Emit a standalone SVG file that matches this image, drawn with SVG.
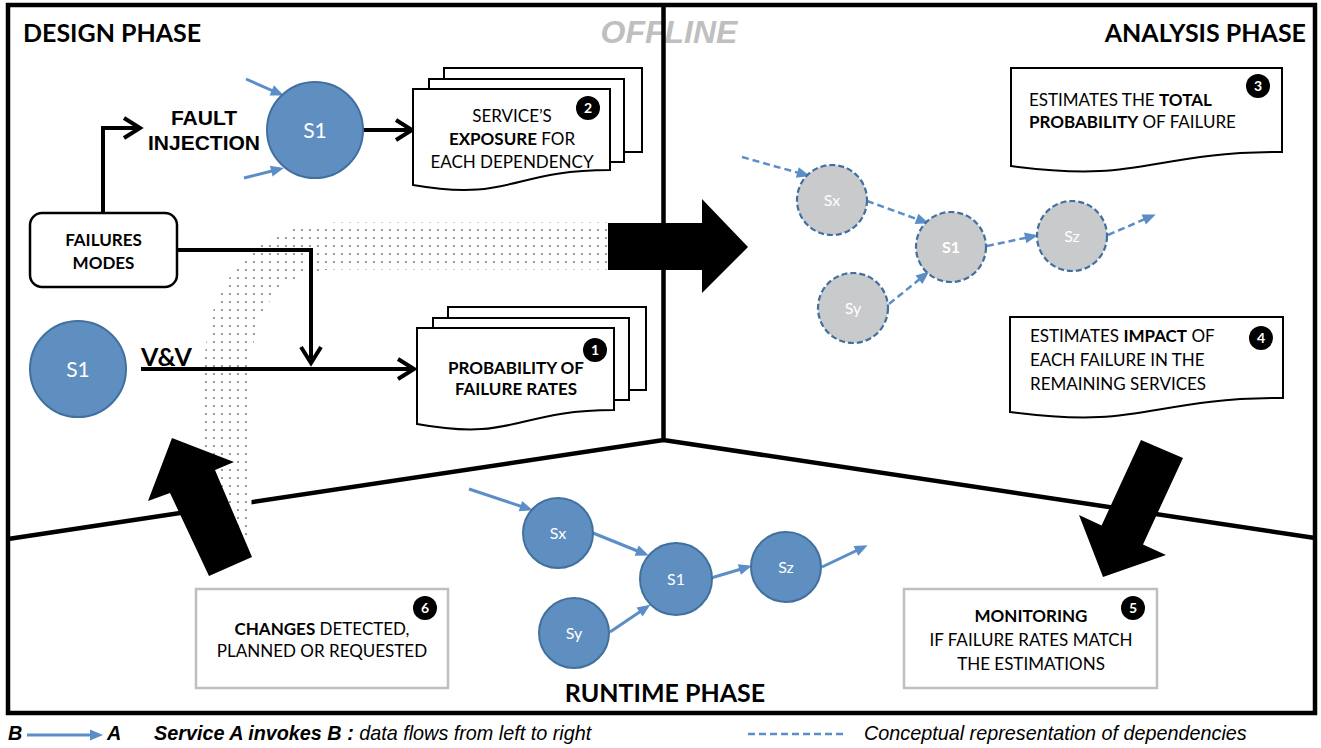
<svg xmlns="http://www.w3.org/2000/svg" width="1321" height="748" viewBox="0 0 1321 748">
<defs>
<style>
.frame{fill:none;stroke:#000;stroke-width:4.5}
.div{fill:none;stroke:#000;stroke-width:4.5}
.conn{fill:none;stroke:#000;stroke-width:4;marker-end:url(#chev)}
.doc{fill:#fff;stroke:#000;stroke-width:2}
.box{fill:#fff;stroke:#bfbfbf;stroke-width:2.5}
.fm{fill:#fff;stroke:#000;stroke-width:2.5}
.svc{fill:#5f8ec0;stroke:#41709f;stroke-width:2}
.svcg{fill:#c9cacc;stroke:#41709f;stroke-width:2.2;stroke-dasharray:6 3}
.blue{fill:none;stroke:#5b8ec6;stroke-width:3;marker-end:url(#tri)}
.bluedash{fill:none;stroke:#5b8ec6;stroke-width:2.5;stroke-dasharray:7 4;marker-end:url(#tri)}
.big{fill:#000}
.title{font-family:Lato,"Liberation Sans",sans-serif;font-weight:bold;font-size:25px;fill:#000}
.txt{font-family:Lato,"Liberation Sans",sans-serif;font-size:17px;fill:#000}
.mid{text-anchor:middle}
.b{font-weight:bold}
.fi{font-family:"Liberation Sans",Arial,sans-serif;font-weight:bold;font-size:21px;text-anchor:middle;fill:#000}
.svt{font-family:Lato,"Liberation Sans",sans-serif;font-size:21px;fill:#fff;text-anchor:middle}
.svts{font-family:Lato,"Liberation Sans",sans-serif;font-size:16px;fill:#fff;text-anchor:middle}
.bc{fill:#000}
.bt{fill:#fff;font-family:Lato,"Liberation Sans",sans-serif;font-weight:bold;font-size:14px;text-anchor:middle}
.leg{font-family:"Liberation Sans",Arial,sans-serif;font-style:italic;font-size:19.8px;fill:#000}
.off{font-family:"Liberation Sans",Arial,sans-serif;font-style:italic;font-weight:bold;font-size:32px;fill:#bfbfbf;text-anchor:middle}
</style>
<marker id="chev" markerUnits="userSpaceOnUse" markerWidth="26" markerHeight="26" refX="20" refY="12" orient="auto" overflow="visible">
<path d="M4,2 L20,12 L4,22" fill="none" stroke="#000" stroke-width="4"/>
</marker>
<marker id="tri" markerUnits="userSpaceOnUse" markerWidth="14" markerHeight="12" refX="9" refY="5.5" orient="auto" overflow="visible">
<path d="M0,0 L13,5.5 L0,11 Z" fill="#5b8ec6"/>
</marker>
<pattern id="dots" patternUnits="userSpaceOnUse" width="8" height="8">
<rect width="8" height="8" fill="#fff"/>
<rect x="5" y="5" width="2" height="2" fill="#9a9a9a"/>
</pattern>
</defs>

<rect width="1321" height="748" fill="#fff"/>

<g id="labels-phase">
<text class="off" x="669" y="43">OFFLINE</text>
<text class="title" x="23" y="42">DESIGN PHASE</text>
<text class="title" x="1306" y="42" text-anchor="end">ANALYSIS PHASE</text>
<text class="title mid" x="665" y="702">RUNTIME PHASE</text>
</g>

<g id="frame">
<rect class="frame" x="8" y="5" width="1307" height="708"/>
<path class="div" d="M663.5,5 V440 M8,539 L663.5,440 L1315,538"/>
</g>

<g id="band">
<path d="M612,246 L335,246 C272,246 228,292 228,370 L228,540" fill="none" stroke="url(#dots)" stroke-width="47"/>
</g>

<g id="connectors">
<path class="conn" d="M103,213 V128 H140"/>
<path class="conn" d="M363,130 H412"/>
<path class="conn" d="M177,250 H311 V363"/>
<path class="conn" d="M141,369 H414"/>
<path class="blue" d="M246,79 L280,94"/>
<path class="blue" d="M244,178 L280,169"/>
<path class="bluedash" d="M742,157 L806,175"/>
<path class="bluedash" d="M867,201 L925,222"/>
<path class="bluedash" d="M889,304 L926,274"/>
<path class="bluedash" d="M987,246 L1034,236"/>
<path class="bluedash" d="M1108,235 L1152,216"/>
<path class="blue" d="M469,489 L529,509"/>
<path class="blue" d="M593,533 L645,554"/>
<path class="blue" d="M610,632 L647,607"/>
<path class="blue" d="M711,578 L748,567"/>
<path class="blue" d="M822,567 L864,547"/>
</g>

<g id="big-arrows">
<path class="big" d="M608,223 H702 V199 L748,247 L702,293 V270 H608 Z"/>
<path class="big" d="M172,438 L234,462 L215,470 L252,557 L209,576 L170,493 L148,501 Z"/>
<path class="big" d="M1103,577 L1079,515 L1101.6,525.4 L1141,440 L1183,458 L1143,544.4 L1166,555 Z"/>
</g>

<g id="fault-injection">
<text class="fi" x="204" y="125">FAULT</text>
<text class="fi" x="204" y="150">INJECTION</text>
</g>

<g id="vv-label">
<text class="title" x="141" y="366" style="font-size:25px">V&amp;V</text>
</g>

<g id="s1-design-top">
<circle class="svc" cx="315" cy="130" r="48"/>
<text class="svt" x="315" y="138">S1</text>
</g>

<g id="s1-design-left">
<circle class="svc" cx="78" cy="369" r="48"/>
<text class="svt" x="78" y="377">S1</text>
</g>

<g id="failures-modes">
<rect class="fm" x="30" y="213" width="147" height="74" rx="12"/>
<text class="txt b mid" x="103.5" y="246">FAILURES</text>
<text class="txt b mid" x="103.5" y="269">MODES</text>
</g>

<g id="doc-exposure">
<rect class="doc" x="444" y="68" width="198" height="84"/>
<rect class="doc" x="429" y="79" width="195" height="83"/>
<path class="doc" d="M413,89 H610 V170 C511.5,170 511.5,202 413,185 Z"/>
<text class="txt mid" x="512" y="122">SERVICE’S</text>
<text class="txt mid" x="512" y="145"><tspan class="b">EXPOSURE</tspan> FOR</text>
<text class="txt mid" x="512" y="168">EACH DEPENDENCY</text>
<circle class="bc" cx="588" cy="108" r="12"/>
<text class="bt" x="588" y="113">2</text>
</g>

<g id="doc-probability">
<rect class="doc" x="448" y="307" width="198" height="83"/>
<rect class="doc" x="433" y="318" width="196" height="82"/>
<path class="doc" d="M417,328 H614 V410 C515.5,410 515.5,442 417,424 Z"/>
<text class="txt b mid" x="516" y="374">PROBABILITY OF</text>
<text class="txt b mid" x="516" y="395">FAILURE RATES</text>
<circle class="bc" cx="595" cy="350" r="12"/>
<text class="bt" x="595" y="355">1</text>
</g>

<g id="doc-total">
<path class="doc" d="M1011,68 H1282 V152 C1146.5,152 1146.5,184 1011,166 Z"/>
<text class="txt" x="1029" y="106">ESTIMATES THE <tspan class="b">TOTAL</tspan></text>
<text class="txt" x="1029" y="128"><tspan class="b">PROBABILITY</tspan> OF FAILURE</text>
<circle class="bc" cx="1258" cy="86" r="12"/>
<text class="bt" x="1258" y="91">3</text>
</g>

<g id="doc-impact">
<path class="doc" d="M1010,317 H1283 V398 C1146.5,398 1146.5,430 1010,412 Z"/>
<text class="txt" x="1030" y="342">ESTIMATES <tspan class="b">IMPACT</tspan> OF</text>
<text class="txt" x="1030" y="366">EACH FAILURE IN THE</text>
<text class="txt" x="1030" y="390">REMAINING SERVICES</text>
<circle class="bc" cx="1261" cy="338" r="12"/>
<text class="bt" x="1261" y="343">4</text>
</g>

<g id="a-sx">
<circle class="svcg" cx="832" cy="200" r="35"/>
<text class="svts" x="832" y="206">Sx</text>
</g>
<g id="a-s1">
<circle class="svcg" cx="951" cy="247" r="35"/>
<text class="svts b" x="951" y="253">S1</text>
</g>
<g id="a-sz">
<circle class="svcg" cx="1072" cy="236" r="35"/>
<text class="svts" x="1072" y="242">Sz</text>
</g>
<g id="a-sy">
<circle class="svcg" cx="853" cy="308" r="35"/>
<text class="svts" x="853" y="314">Sy</text>
</g>

<g id="r-sx">
<circle class="svc" cx="558" cy="533" r="35"/>
<text class="svts" x="558" y="539">Sx</text>
</g>
<g id="r-sy">
<circle class="svc" cx="574" cy="633" r="35"/>
<text class="svts" x="574" y="639">Sy</text>
</g>
<g id="r-s1">
<circle class="svc" cx="676" cy="579" r="36"/>
<text class="svts" x="676" y="585">S1</text>
</g>
<g id="r-sz">
<circle class="svc" cx="786" cy="567" r="35"/>
<text class="svts" x="786" y="573">Sz</text>
</g>

<g id="box-changes">
<rect class="box" x="196" y="589" width="252" height="99"/>
<text class="txt mid" x="322" y="635"><tspan class="b">CHANGES</tspan> DETECTED,</text>
<text class="txt mid" x="322" y="657">PLANNED OR REQUESTED</text>
<circle class="bc" cx="425" cy="608" r="12"/>
<text class="bt" x="425" y="613">6</text>
</g>

<g id="box-monitoring">
<rect class="box" x="904" y="589" width="253" height="99"/>
<text class="txt b mid" x="1031" y="622">MONITORING</text>
<text class="txt mid" x="1031" y="646">IF FAILURE RATES MATCH</text>
<text class="txt mid" x="1031" y="670">THE ESTIMATIONS</text>
<circle class="bc" cx="1133" cy="608" r="12"/>
<text class="bt" x="1133" y="613">5</text>
</g>

<g id="legend">
<text class="leg b" x="8" y="740">B</text>
<path class="blue" d="M27,735 L99,735"/>
<text class="leg b" x="107" y="740">A</text>
<text class="leg" x="154" y="740"><tspan class="b">Service A invokes B :</tspan> data flows from left to right</text>
<path d="M748,734 H845" fill="none" stroke="#5b8ec6" stroke-width="2.5" stroke-dasharray="7 4"/>
<text class="leg" x="864" y="740">Conceptual representation of dependencies</text>
</g>
</svg>
